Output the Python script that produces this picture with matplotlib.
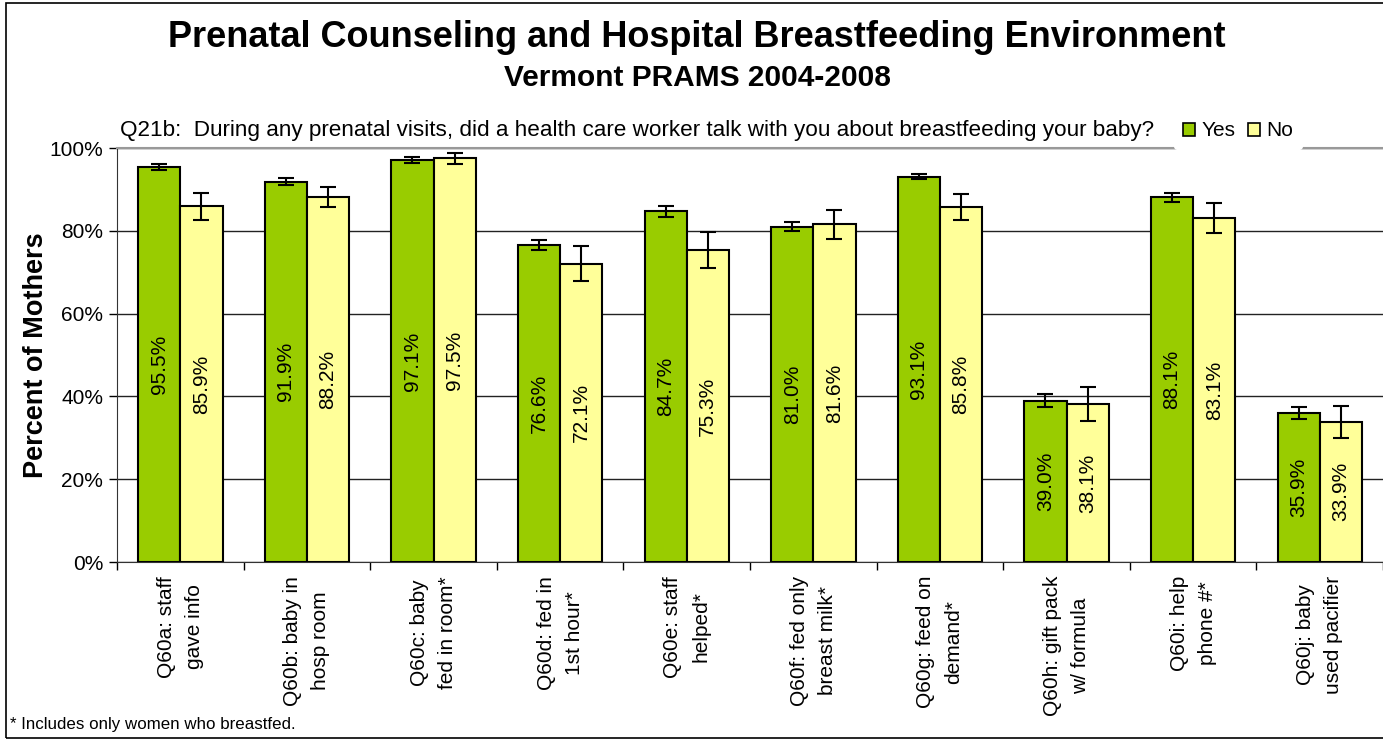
import numpy as np
import matplotlib
matplotlib.use("Agg")
import matplotlib.pyplot as plt
from matplotlib.patches import Patch, Rectangle

plt.rcParams["font.family"] = ["Liberation Sans", "DejaVu Sans"]

# ---------------------------------------------------------------------------
# Data
# ---------------------------------------------------------------------------
categories = [
    "Q60a: staff\ngave info",
    "Q60b: baby in\nhosp room",
    "Q60c: baby\nfed in room*",
    "Q60d: fed in\n1st hour*",
    "Q60e: staff\nhelped*",
    "Q60f: fed only\nbreast milk*",
    "Q60g: feed on\ndemand*",
    "Q60h: gift pack\nw/ formula",
    "Q60i: help\nphone #*",
    "Q60j: baby\nused pacifier",
]
yes_vals = [95.5, 91.9, 97.1, 76.6, 84.7, 81.0, 93.1, 39.0, 88.1, 35.9]
no_vals = [85.9, 88.2, 97.5, 72.1, 75.3, 81.6, 85.8, 38.1, 83.1, 33.9]
yes_err = [0.75, 0.9, 0.7, 1.3, 1.4, 1.1, 0.7, 1.6, 1.15, 1.45]
no_err = [3.2, 2.5, 1.35, 4.2, 4.3, 3.5, 3.2, 4.1, 3.6, 3.9]
yticks = [0, 20, 40, 60, 80, 100]

GREEN = "#99CC00"
YELLOW = "#FFFF99"

fig = plt.figure(figsize=(13.83, 7.40), dpi=100)
ax = fig.add_axes([0.0846, 0.2405, 0.9154, 0.5595])

x = np.arange(len(categories))
w = 1 / 3
ekw = dict(ecolor="black", elinewidth=1.5, capsize=6, capthick=1.5)
ax.bar(x - w / 2, yes_vals, w, color=GREEN, edgecolor="black", linewidth=1.5,
       yerr=yes_err, error_kw=ekw, zorder=3, label="Yes")
ax.bar(x + w / 2, no_vals, w, color=YELLOW, edgecolor="black", linewidth=1.5,
       yerr=no_err, error_kw=ekw, zorder=3, label="No")

# value labels inside bars (rotated, centred at half height)
for xi, v in zip(x - w / 2, yes_vals):
    ax.text(xi, v / 2, f"{v:.1f}%", rotation=90, ha="center", va="center",
            fontsize=15, zorder=4)
for xi, v in zip(x + w / 2, no_vals):
    ax.text(xi, v / 2, f"{v:.1f}%", rotation=90, ha="center", va="center",
            fontsize=15, zorder=4)

ax.set_xlim(-0.5, len(categories) - 0.5)
ax.set_ylim(0, 100)
ax.set_yticks(yticks)
ax.set_yticklabels([f"{t}%" for t in yticks], fontsize=15)
ax.yaxis.grid(True, color="#222222", linewidth=1.0, zorder=0)
ax.set_axisbelow(True)

# category ticks at slot boundaries, labels at centres
ax.set_xticks(np.arange(len(categories) + 1) - 0.5)
ax.set_xticklabels([])
ax.set_xticks(x, minor=True)
ax.set_xticklabels(categories, minor=True, rotation=90, fontsize=15,
                   ha="center", va="top", multialignment="center",
                   linespacing=1.6)
ax.tick_params(axis="x", which="minor", length=0, pad=10)
ax.tick_params(axis="x", which="major", length=6, width=1, direction="out")
ax.tick_params(axis="y", length=6, width=1, direction="out", pad=4)

ax.spines["right"].set_visible(False)
ax.spines["top"].set_color("#999999")
ax.spines["top"].set_linewidth(1.5)
ax.spines["left"].set_color("#333333")
ax.spines["bottom"].set_color("#333333")

ax.set_ylabel("Percent of Mothers", fontsize=19.5, fontweight="bold", labelpad=0)

# titles
fig.text(0.504, 0.949, "Prenatal Counseling and Hospital Breastfeeding Environment",
         ha="center", va="center", fontsize=26, fontweight="bold")
fig.text(0.504, 0.895, "Vermont PRAMS 2004-2008",
         ha="center", va="center", fontsize=21.5, fontweight="bold")
fig.text(0.087, 0.823,
         "Q21b:  During any prenatal visits, did a health care worker talk with you about breastfeeding your baby?",
         ha="left", va="center", fontsize=16.2)

handles = [Patch(facecolor=GREEN, edgecolor="black", linewidth=1.2),
           Patch(facecolor=YELLOW, edgecolor="black", linewidth=1.2)]
leg = fig.legend(handles, ["Yes", "No"], loc="center left",
                 bbox_to_anchor=(0.849, 0.823), ncol=2, fontsize=15,
                 frameon=True, handlelength=0.6, handleheight=0.6,
                 handletextpad=0.3, columnspacing=0.6, borderpad=0.4,
                 borderaxespad=0)
leg.get_frame().set_edgecolor("white")
leg.get_frame().set_facecolor("white")
leg.get_frame().set_alpha(1)

fig.text(0.007, 0.021, "* Includes only women who breastfed.", ha="left",
         va="center", fontsize=12.2)

# figure border
fig.patches.append(Rectangle((0.004, 0.003), 1.2, 0.993, transform=fig.transFigure,
                             fill=False, edgecolor="black", linewidth=1.2))

fig.savefig("out.png", dpi=100)
